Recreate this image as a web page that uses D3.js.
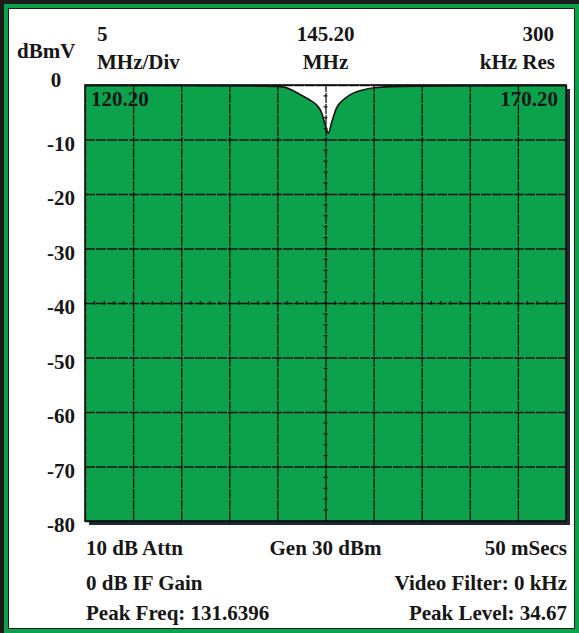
<!DOCTYPE html>
<html><head><meta charset="utf-8">
<script src="https://cdn.jsdelivr.net/npm/d3@7"></script>
<style>
html,body{margin:0;padding:0;background:#fff;}
svg{display:block;}
text{font-family:"Liberation Serif","Times New Roman",serif;font-weight:bold;fill:#161616;}
</style></head>
<body>
<script>
// ---- data ----
const freqTicks = [120.2,125.2,130.2,135.2,140.2,145.2,150.2,155.2,160.2,165.2,170.2];
const levelTicks = [0,-10,-20,-30,-40,-50,-60,-70,-80];
const levelLabels = ["0","-10","-20","-30","-40","-50","-60","-70","-80"];
const traceFreq  = [120.2,125.2,130.2,135.2,138.2,140.2,140.8,141.8,142.6,143.6,144.3,144.8,145.15,145.5,145.85,146.35,147.0,147.75,149.1,150.35,151.9,155.2,160.2,165.2,170.2];
const traceLevel = [-0.1,-0.1,-0.1,-0.15,-0.2,-0.25,-0.35,-1.0,-1.8,-2.8,-3.7,-5.1,-7.2,-8.8,-6.8,-4.2,-2.8,-1.8,-0.9,-0.5,-0.3,-0.2,-0.15,-0.1,-0.1];
const topLeft = ["5","MHz/Div"];
const topCenter = ["145.20","MHz"];
const topRight = ["300","kHz Res"];
const yUnit = "dBmV";
const startLabel = "120.20", stopLabel = "170.20";
const bottomLeft = ["10 dB Attn","0 dB IF Gain","Peak Freq: 131.6396"];
const bottomCenter = ["Gen 30 dBm"];
const bottomRight = ["50 mSecs","Video Filter: 0 kHz","Peak Level: 34.67"];

const W=579,H=633;
const svg=d3.select("body").append("svg").attr("width",W).attr("height",H);

// frame
svg.append("rect").attr("width",W).attr("height",H).attr("fill","#1b1b1b");
svg.append("rect").attr("x",4).attr("y",4).attr("width",W-4).attr("height",H-4).attr("fill","#0ca24c");
svg.append("rect").attr("x",8).attr("y",8).attr("width",W-12).attr("height",H-12).attr("fill","#1b1b1b");
svg.append("rect").attr("x",9).attr("y",9).attr("width",W-14).attr("height",H-14).attr("fill","#fff");

const x0=85,x1=566,y0=85,y1=521;
const x=d3.scaleLinear().domain([120.2,170.2]).range([x0,x1]);
const y=d3.scaleLinear().domain([0,-80]).range([y0,y1]);

// shadow
svg.append("rect").attr("x",x0+4).attr("y",y0+4).attr("width",x1-x0).attr("height",y1-y0).attr("fill","#1d2b38");
svg.append("rect").attr("x",x0).attr("y",y0).attr("width",x1-x0).attr("height",y1-y0).attr("fill","#fff");

const pts = traceFreq.map((f,i)=>[f,traceLevel[i]]);
const area=d3.area().x(d=>x(d[0])).y0(y(-80)).y1(d=>y(d[1])).curve(d3.curveMonotoneX);
svg.append("path").datum(pts).attr("d",area).attr("fill","#0ca24c");

// grid via axes
const gx=svg.append("g").attr("transform",`translate(0,${y1})`)
  .call(d3.axisBottom(x).tickValues(freqTicks).tickSize(-(y1-y0)).tickFormat(""));
gx.select(".domain").remove();
gx.selectAll("line").attr("stroke","#121212").attr("stroke-width",1.3).attr("stroke-dasharray","10,1");
const gy=svg.append("g").attr("transform",`translate(${x0},0)`)
  .call(d3.axisLeft(y).tickValues(levelTicks).tickSize(-(x1-x0)).tickFormat(""));
gy.select(".domain").remove();
gy.selectAll("line").attr("stroke","#121212").attr("stroke-width",1.3).attr("stroke-dasharray","10,1");

// minor ticks on centre lines
const minorF=d3.range(120.2,170.21,1);
svg.append("g").selectAll("line").data(minorF).join("line")
  .attr("x1",d=>x(d)).attr("x2",d=>x(d)).attr("y1",y(-40)-2).attr("y2",y(-40)+2)
  .attr("stroke","#121212").attr("stroke-width",1.2);
const minorL=d3.range(0,-80.1,-2);
svg.append("g").selectAll("line").data(minorL).join("line")
  .attr("x1",x(145.2)-2).attr("x2",x(145.2)+2).attr("y1",d=>y(d)).attr("y2",d=>y(d))
  .attr("stroke","#121212").attr("stroke-width",1.2);

// trace
const line=d3.line().x(d=>x(d[0])).y(d=>y(d[1])).curve(d3.curveMonotoneX);
svg.append("path").datum(pts).attr("d",line).attr("fill","none").attr("stroke","#111").attr("stroke-width",1.6);

// border
svg.append("rect").attr("x",x0).attr("y",y0).attr("width",x1-x0).attr("height",y1-y0)
  .attr("fill","none").attr("stroke","#111").attr("stroke-width",1.6);

const FS=21;
// y labels
const ya=svg.append("g").attr("transform",`translate(75,0)`)
  .call(d3.axisLeft(y).tickValues(levelTicks).tickSize(0).tickPadding(0).tickFormat((d,i)=>levelLabels[i]));
ya.select(".domain").remove();
ya.selectAll("text").attr("font-size",FS).attr("font-family","Liberation Serif").attr("font-weight","bold")
  .attr("fill","#161616").attr("dy","0.5em").attr("text-anchor","end");
ya.selectAll(".tick").filter(d=>d===0).select("text").attr("text-anchor","middle").attr("x",-19).attr("dy","0.05em");

const T=(t,xx,yy,anchor)=>svg.append("text").attr("x",xx).attr("y",yy).attr("text-anchor",anchor||"start").attr("font-size",FS).text(t);
T(yUnit,17,58);
T(topLeft[0],97,41); T(topLeft[1],97,69);
T(topCenter[0],x(145.2),41,"middle"); T(topCenter[1],x(145.2),69,"middle");
T(topRight[0],554,41,"end"); T(topRight[1],555,69,"end");
T(startLabel,91,106); T(stopLabel,558,106,"end");
const rows=[555,590,620];
bottomLeft.forEach((t,i)=>T(t,86,rows[i]));
T(bottomCenter[0],x(145.2),555,"middle");
bottomRight.forEach((t,i)=>T(t,567,rows[i],"end"));
</script>
</body></html>
